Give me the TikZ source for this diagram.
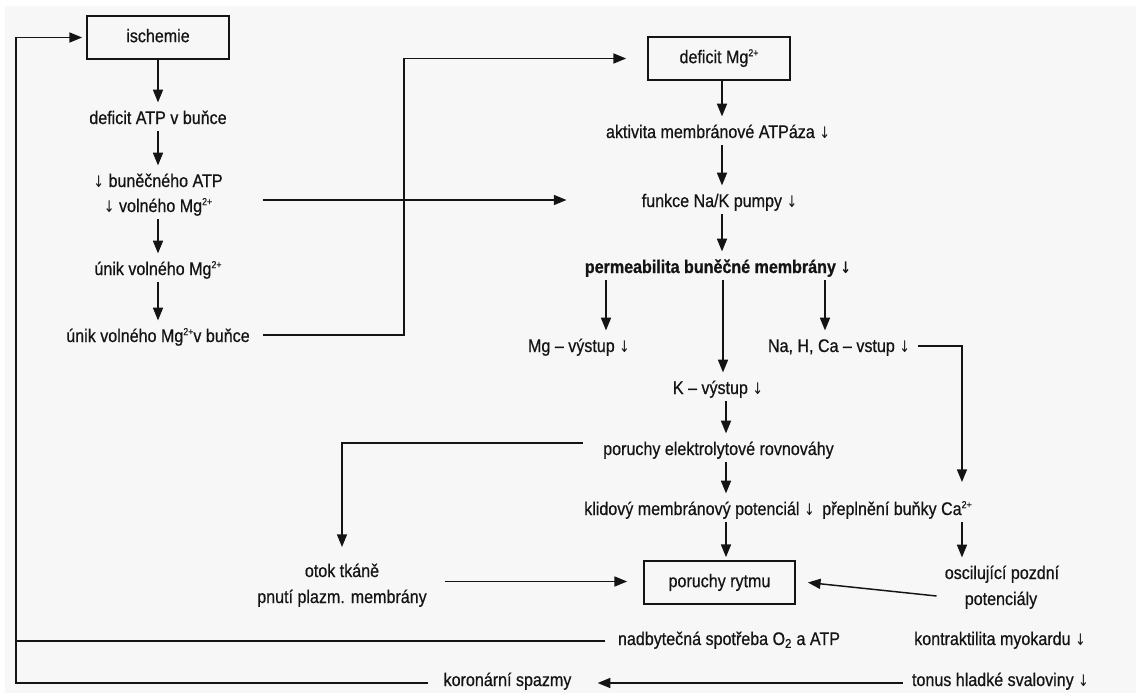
\documentclass[tikz,border=0pt]{standalone}
\usepackage{fontspec}
\setmainfont{Liberation Sans}[FakeStretch=0.88,UprightFeatures={FakeBold=0.6},BoldFeatures={FakeBold=0.8}]
\newfontfamily\arrowfont{DejaVu Sans}[FakeStretch=0.8]
\usetikzlibrary{arrows.meta,calc}
\definecolor{ink}{HTML}{141414}
\definecolor{paper}{HTML}{F7F7F7}
% small raised charge, and the down arrow used as "decreased"
\newcommand{\ionup}[1]{\raisebox{5.2pt}{\fontsize{7.5}{7.5}\selectfont #1}}
\newcommand{\dn}{{\arrowfont\fontsize{12}{14}\selectfont ↓}}
\begin{document}
\begin{tikzpicture}[x=0.75pt,y=-0.75pt,
  font=\fontsize{13.7}{16}\selectfont,
  every node/.style={text=ink},
  lbl/.style={anchor=base,inner xsep=0pt,inner ysep=2.25pt,text height=13.75pt,text depth=3pt},
  box/.style={draw=ink,line width=1.3pt,minimum width=106.5pt,minimum height=32.25pt,inner sep=0pt,text height=10pt,text depth=3pt},
  link/.style={draw=ink,line width=1.1pt},
  arr/.style={link,-{Triangle[length=9.5pt,width=7.5pt]}}]

% page and paper
\fill[white] (0,0) rectangle (1136,693);
\fill[paper] (5,6) rectangle (1136,693);
\useasboundingbox (0,0) rectangle (1136,693);

% left chain
\node[box] (isch) at (158,37.5) {ischemie};
\node[lbl] (defATP) at (158,124) {deficit ATP v buňce};
\node[lbl] (buATP) at (158,187) {\dn{} buněčného ATP};
\node[lbl] (volMg) at (158,212) {\dn{} volného Mg\ionup{2+}};
\node[lbl] (unik1) at (158,275) {únik volného Mg\ionup{2+}};
\node[lbl] (unik2) at (158,342) {únik volného Mg\ionup{2+}v buňce};

% right chain
\node[box] (defMg) at (719,58.5) {deficit Mg\ionup{2+}};
\node[lbl] (aktiv) at (718,138) {aktivita membránové ATPáza \dn};
\node[lbl] (funkce) at (719.5,207) {funkce Na/K pumpy \dn};
\node[lbl,font=\fontsize{13.7}{16}\selectfont\bfseries] (perm) at (718,273) {permeabilita buněčné membrány \dn};
\node[lbl] (mgout) at (579,352) {Mg – výstup \dn};
\node[lbl] (kout) at (718,394) {K – výstup \dn};
\node[lbl] (naout) at (839,352) {Na, H, Ca – vstup \dn};
\node[lbl] (porel) at (718.5,455) {poruchy elektrolytové rovnováhy};
\node[lbl,anchor=base east] (klid) at (815,515) {klidový membránový potenciál \dn};
\node[lbl,anchor=base west] (prepl) at (822,515) {přeplnění buňky Ca\ionup{2+}};
\node[lbl] (otok1) at (342,577) {otok tkáně};
\node[lbl] (otok2) at (342,603) {pnutí plazm. membrány};
\node[box,minimum width=113.25pt] (rytmus) at (719.5,582.5) {poruchy rytmu};
\node[lbl] (osc1) at (1002,579) {oscilující pozdní};
\node[lbl] (osc2) at (1001,605) {potenciály};
\node[lbl] (nadb) at (729,645) {nadbytečná spotřeba O\textsubscript{2} a ATP};
\node[lbl] (kontr) at (1000,645) {kontraktilita myokardu \dn};
\node[lbl] (tonus) at (1000.5,686) {tonus hladké svaloviny \dn};
\node[lbl] (koron) at (507.5,686) {koronární spazmy};

% column guides for vertical arrows
\coordinate (colR) at (722,0);
\coordinate (colR2) at (726,0);
\coordinate (brL) at (606,0);
\coordinate (brM) at (723,0);
\coordinate (brR) at (825,0);

% left chain arrows
\draw[arr] (isch.south) -- (defATP.north);
\draw[arr] (defATP.south) -- (buATP.north);
\draw[arr] (volMg.south) -- (unik1.north);
\draw[arr] (unik1.south) -- (unik2.north);

% right chain arrows
\draw[arr] (defMg.south -| colR) -- (aktiv.north -| colR);
\draw[arr] (aktiv.south -| colR) -- (funkce.north -| colR);
\draw[arr] (funkce.south -| colR) -- (perm.north -| colR);
\draw[arr] (perm.south -| brL) -- (mgout.north -| brL);
\draw[arr] (perm.south -| brM) -- (kout.north -| brM);
\draw[arr] (perm.south -| brR) -- (naout.north -| brR);
\draw[arr] (kout.south -| colR2) -- (porel.north -| colR2);
\draw[arr] (porel.south -| colR2) -- (klid.north -| colR2);
\draw[arr] (klid.south -| colR2) -- ($(rytmus.north -| colR2)+(0,-3)$);

% links between the chains
\draw[arr] ($(unik2.base east)+(13,-7)$) -| ($(defMg.west)+(-243,0)$) -- ($(defMg.west)+(-21,0)$);
\draw[arr] ($(unik2.base east |- funkce.base)+(13,-7)$) -- ($(funkce.base west)+(-75,-7)$);

% calcium branch
\draw[arr] ($(naout.base east)+(8,-6)$) -| ($(prepl.base east)+(-10,-33)$);
\coordinate (preplDown) at ($(prepl.base east)+(-10,7)$);
\draw[arr] (preplDown) -- (preplDown |- osc1.north);
\draw[arr] ($(osc2.base west)+(-28,-9)$) -- ($(rytmus.east)+(12,0)$);

% oedema branch
\draw[arr] ($(porel.base west)+(-20,-12)$) -| ($(otok1.base)+(0,-30)$);
\draw[arr] ($(otok2.base east |- rytmus.west)+(18,-1)$) -- ($(rytmus.west)+(-16,-1)$);

% feedback to ischaemia
\coordinate (loop) at ($(isch.west)+(-70,0)$);
\draw[arr] ($(koron.base west)+(-15,-3)$) -| (loop) -- ($(isch.west)+(-4,0)$);
\coordinate (nadbL) at ($(nadb.base west)+(-13,-4)$);
\draw[link] (nadbL) -- (nadbL -| loop);
\coordinate (tonusL) at ($(tonus.base west)+(-9,-3)$);
\coordinate (koronR) at ($(koron.base east)+(26,0)$);
\draw[arr] (tonusL) -- (tonusL -| koronR);
\end{tikzpicture}
\end{document}
